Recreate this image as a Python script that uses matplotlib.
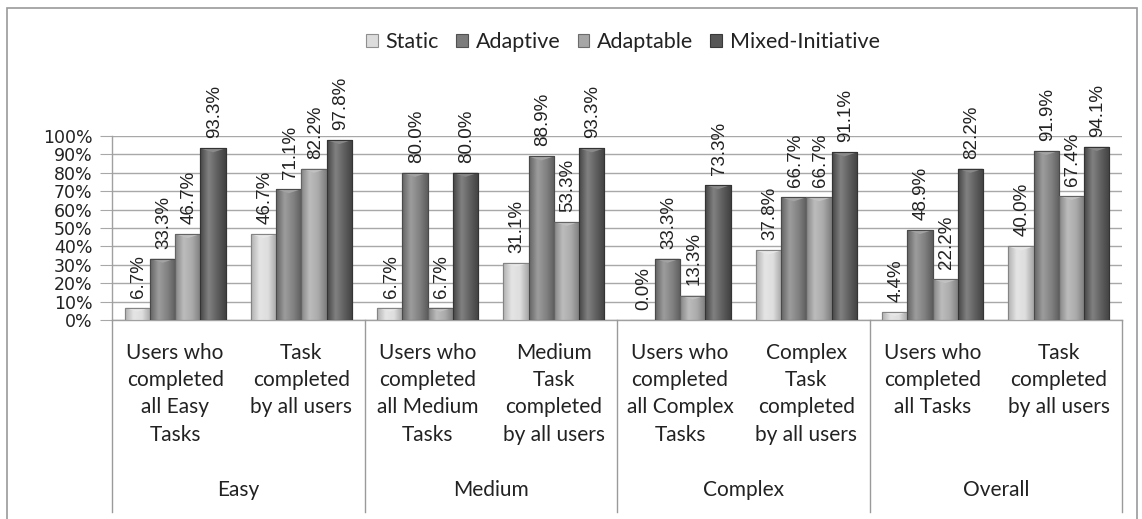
import matplotlib
matplotlib.use("Agg")
import matplotlib.pyplot as plt
import numpy as np
from matplotlib.colors import LinearSegmentedColormap
from matplotlib.patches import Rectangle
from matplotlib.lines import Line2D

# ---- data ----
series = ["Static", "Adaptive", "Adaptable", "Mixed-Initiative"]
categories = [
    "Users who\ncompleted\nall Easy\nTasks",
    "Task\ncompleted\nby all users",
    "Users who\ncompleted\nall Medium\nTasks",
    "Medium\nTask\ncompleted\nby all users",
    "Users who\ncompleted\nall Complex\nTasks",
    "Complex\nTask\ncompleted\nby all users",
    "Users who\ncompleted\nall Tasks",
    "Task\ncompleted\nby all users",
]
groups = ["Easy", "Medium", "Complex", "Overall"]
static = [6.7, 46.7, 6.7, 31.1, 0.0, 37.8, 4.4, 40.0]
adaptive = [33.3, 71.1, 80.0, 88.9, 33.3, 66.7, 48.9, 91.9]
adaptable = [46.7, 82.2, 6.7, 53.3, 13.3, 66.7, 22.2, 67.4]
mixed = [93.3, 97.8, 80.0, 93.3, 73.3, 91.1, 82.2, 94.1]
values = [static, adaptive, adaptable, mixed]
ytick_vals = list(range(0, 101, 10))

colors = ["#dcdcdc", "#7c7c7c", "#a6a6a6", "#575757"]

W, H = 1142, 519
fig = plt.figure(figsize=(W / 100, H / 100), dpi=100)
fig.patch.set_facecolor("white")

ax = fig.add_axes([112 / W, 1 - 320 / H, (1122 - 112) / W, (320 - 136) / H])
ax.set_xlim(-0.5, len(categories) - 0.5)
ax.set_ylim(0, 100)

# outer border
fig.add_artist(Rectangle((7 / W, -0.05), (1137 - 7) / W, 1 - 8 / H + 0.05,
                         transform=fig.transFigure, fill=False,
                         edgecolor="#9a9a9a", linewidth=1.2))

x = np.arange(len(categories))
bw = 0.2
offsets = [-1.5, -0.5, 0.5, 1.5]


def shade(c, f):
    c = np.array(matplotlib.colors.to_rgb(c))
    if f >= 0:
        return tuple(c + (1 - c) * f)
    return tuple(c * (1 + f))


val_font = ["Liberation Sans Narrow", "Liberation Sans", "DejaVu Sans"]
for si, (vals, col, off) in enumerate(zip(values, colors, offsets)):
    bars = ax.bar(x + off * bw, vals, width=bw, color=col,
                  edgecolor=shade(col, -0.35), linewidth=0.8, zorder=3,
                  label=series[si])
    cmap = LinearSegmentedColormap.from_list(
        "g", [shade(col, -0.2), shade(col, 0.25), shade(col, 0.05), shade(col, -0.25)])
    grad = np.linspace(0, 1, 64).reshape(1, -1)
    for b, v in zip(bars, vals):
        x0, w, h = b.get_x(), b.get_width(), b.get_height()
        ax.text(x0 + w * 0.55, h + 5.5, f"{v:.1f}%", rotation=90,
                ha="center", va="bottom", fontsize=13.5,
                family=val_font, color="#222222", clip_on=False, zorder=5)
        if h <= 0:
            continue
        im = ax.imshow(grad, extent=(x0, x0 + w, 0, h), aspect="auto",
                       cmap=cmap, zorder=3.1, interpolation="bicubic")
        im.set_clip_path(b)
        # top bevel
        bev = min(2.2, h)
        ax.fill([x0, x0 + w, x0 + w * 0.5], [h, h, h - bev],
                color=shade(col, 0.3), zorder=3.2, linewidth=0)
        ax.add_patch(Rectangle((x0, 0), w, h, fill=False,
                               edgecolor=shade(col, -0.4), linewidth=0.8, zorder=3.3))

ax.set_xlim(-0.5, len(categories) - 0.5)
ax.set_ylim(0, 100)

# grid & axes
ax.set_yticks(ytick_vals)
ax.set_yticklabels([f"{t}%" for t in ytick_vals], fontsize=12.5,
                   family="DejaVu Sans", color="#222222")
ax.yaxis.grid(True, color="#a8a8a8", linewidth=1.0, zorder=0)
ax.set_axisbelow(True)
ax.tick_params(axis="y", length=9, color="#a8a8a8", pad=5)
ax.tick_params(axis="x", length=0, labelbottom=False)
for s in ["top", "right"]:
    ax.spines[s].set_visible(False)
ax.spines["left"].set_color("#a0a0a0")
ax.spines["bottom"].set_color("#a0a0a0")
ax.spines["left"].set_linewidth(1.0)
ax.spines["bottom"].set_linewidth(1.0)

# category area
trans = matplotlib.transforms.blended_transform_factory(ax.transData, fig.transFigure)
y_axis = 1 - 320 / H
y_bot = 1 - 512 / H
for gx in [-0.5, 1.5, 3.5, 5.5, 7.5]:
    fig.add_artist(Line2D([gx, gx], [y_axis, y_bot], transform=trans,
                          color="#9a9a9a", linewidth=1.0))
cat_font = ["Lato", "DejaVu Sans"]
for i, lab in enumerate(categories):
    ax.text(i, 1 - 343 / H, lab, transform=trans, ha="center", va="top",
            fontsize=15, family=cat_font, color="#222222", linespacing=1.45)
for gi, g in enumerate(groups):
    ax.text(2 * gi + 0.5, 1 - 490 / H, g, transform=trans, ha="center",
            va="center", fontsize=15, family=cat_font, color="#222222")

# legend
handles = [Rectangle((0, 0), 1, 1, facecolor=c, edgecolor=shade(c, -0.35), linewidth=0.8)
           for c in colors]
leg = fig.legend(handles, series, loc="center", bbox_to_anchor=(623 / W, 1 - 42 / H),
                 ncol=4, frameon=False, handlelength=0.55, handleheight=0.55,
                 handletextpad=0.35, columnspacing=0.8,
                 prop={"family": cat_font, "size": 15.5})
for t in leg.get_texts():
    t.set_color("#222222")

fig.savefig("out.png", dpi=100, facecolor="white")
